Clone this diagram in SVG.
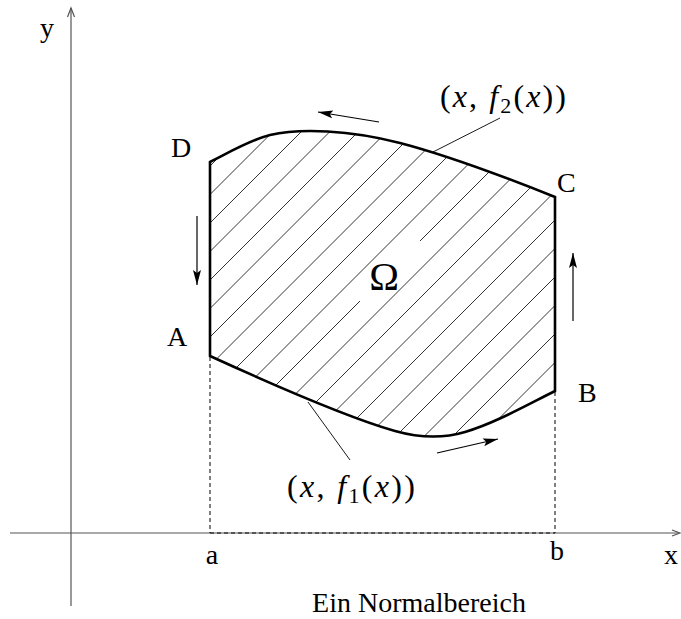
<svg xmlns="http://www.w3.org/2000/svg" width="681" height="619" viewBox="0 0 681 619">
<style>
.lbl{font-family:"Liberation Serif","Times New Roman",serif;font-size:28px;fill:#000}
.math{font-size:32px}
.it{font-style:italic}
.axis{stroke:#555;stroke-width:1.2;fill:none}
.dash{stroke:#000;stroke-width:1;stroke-dasharray:4 3;fill:none}
.hatch line{stroke:#000;stroke-width:0.8}
.bound{stroke:#000;stroke-width:2.6;fill:none;stroke-linejoin:miter}
.lead{stroke:#000;stroke-width:0.9;fill:none}
.dir{stroke:#000;stroke-width:1.2;fill:none;marker-end:url(#ah)}
</style>
<defs>
<marker id="ah" markerUnits="userSpaceOnUse" markerWidth="18" markerHeight="10" refX="15" refY="4" orient="auto">
<path d="M0,0 L15,4 L0,8 L3,4 z" fill="#000"/>
</marker>
<clipPath id="reg">
<path d="M210,162 C230,152 250,140 270,135 C300,128 350,130 400,143 C450,156 500,175 555,197 L555,391 C525,406 495,423 465,432 C445,438 420,438 395,431 C350,418 280,388 210,356 Z"/>
</clipPath>
</defs>
<g id="axes">
<line class="axis" x1="71" y1="606" x2="71" y2="8"/>
<polyline class="axis" points="67.5,17 71,8 74.5,17"/>
<line class="axis" x1="10" y1="533" x2="679" y2="533"/>
<polyline class="axis" points="672,530 680,533 672,536"/>
</g>
<g id="hatching" class="hatch" clip-path="url(#reg)">
<line x1="200" y1="176" x2="570" y2="-194"/>
<line x1="200" y1="204.5" x2="570" y2="-165.5"/>
<line x1="200" y1="233" x2="570" y2="-137"/>
<line x1="200" y1="261.5" x2="570" y2="-108.5"/>
<line x1="200" y1="290" x2="570" y2="-80"/>
<line x1="200" y1="318.5" x2="570" y2="-51.5"/>
<line x1="200" y1="347" x2="570" y2="-23"/>
<line x1="200" y1="375.5" x2="570" y2="5.5"/>
<line x1="200" y1="404" x2="570" y2="34"/>
<line x1="200" y1="432.5" x2="570" y2="62.5"/>
<line x1="200" y1="461" x2="360" y2="301"/>
<line x1="420" y1="241" x2="570" y2="91"/>
<line x1="200" y1="489.5" x2="570" y2="119.5"/>
<line x1="200" y1="518" x2="570" y2="148"/>
<line x1="200" y1="546.5" x2="570" y2="176.5"/>
<line x1="200" y1="575" x2="570" y2="205"/>
<line x1="200" y1="603.5" x2="570" y2="233.5"/>
<line x1="200" y1="632" x2="570" y2="262"/>
<line x1="200" y1="660.5" x2="570" y2="290.5"/>
<line x1="200" y1="689" x2="570" y2="319"/>
<line x1="200" y1="717.5" x2="570" y2="347.5"/>
</g>
<g id="region">
<path class="bound" d="M210,162 C230,152 250,140 270,135 C300,128 350,130 400,143 C450,156 500,175 555,197 L555,391 C525,406 495,423 465,432 C445,438 420,438 395,431 C350,418 280,388 210,356 Z"/>
</g>
<g id="connectors">
<line class="dash" x1="210" y1="357" x2="210" y2="533"/>
<line class="dash" x1="555" y1="392" x2="555" y2="533"/>
<line class="dash" x1="210" y1="533" x2="555" y2="533"/>
<line class="lead" x1="433" y1="152" x2="500" y2="118"/>
<line class="lead" x1="308" y1="402" x2="350" y2="460"/>
<line class="dir" x1="379" y1="122" x2="318" y2="112"/>
<line class="dir" x1="437" y1="453" x2="498" y2="439"/>
<line class="dir" x1="197" y1="216" x2="197" y2="285"/>
<line class="dir" x1="573" y1="321" x2="573" y2="253"/>
</g>
<g id="labels">
<text class="lbl" x="40" y="37">y</text>
<text class="lbl" x="171" y="157">D</text>
<text class="lbl" x="557" y="192">C</text>
<text class="lbl" x="167" y="346">A</text>
<text class="lbl" x="578" y="402">B</text>
<text class="lbl" x="384" y="290" text-anchor="middle" style="font-size:40px">Ω</text>
<text class="lbl math" x="440" y="107" textLength="126">(<tspan class="it">x</tspan>, <tspan class="it">f</tspan><tspan dy="6" style="font-size:22px">2</tspan><tspan dy="-6">(</tspan><tspan class="it">x</tspan>))</text>
<text class="lbl math" x="287" y="497" textLength="128">(<tspan class="it">x</tspan>, <tspan class="it">f</tspan><tspan dy="6" style="font-size:22px">1</tspan><tspan dy="-6">(</tspan><tspan class="it">x</tspan>))</text>
<text class="lbl" x="212" y="564" text-anchor="middle">a</text>
<text class="lbl" x="557" y="560" text-anchor="middle">b</text>
<text class="lbl" x="671" y="564" text-anchor="middle">x</text>
<text class="lbl" x="419" y="612" text-anchor="middle">Ein Normalbereich</text>
</g>
</svg>
